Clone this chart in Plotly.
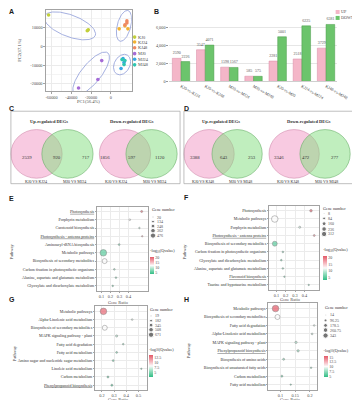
import numpy as np
import plotly.graph_objects as go

W, H = 360, 400
SERIF = "Liberation Serif"
SANS = "Liberation Sans"
GRID = "#ebebeb"
FRAME = "#a3a3a3"
TXT = "#4d4d4d"


def fx(p):
    return p / W


def fy(p):
    return 1 - p / H


# ===================== DATA =====================
# A: PCA
pca_groups = ["KJ0", "KJ24", "KJ48", "MJ0", "MJ24", "MJ48"]
pca_colors = ["#c2cf3a", "#f3b230", "#ef8a62", "#a56bd6", "#3aa6e3", "#2ec6b0"]
pc1_values = [[-62900, -22900, -23900], [8300, 17100, 14100], [16100, 16100, 14100],
              [-9300, -13200, -32700], [12200, 13200, 10200], [11200, 14100, 13200]]
pc2_values = [[16940, 8950, 8420], [9480, 9480, 11080], [13750, 12680, 11610],
              [-7570, -17690, -22300], [-6500, -8630, -11830], [-7030, -7570, -9700]]
pc1_ticks = [-60000, -40000, -20000, 0]
pc2_ticks = [-20000, -10000, 0, 10000]

# B: DEG numbers
deg_comparisons = ["KJ0-vs-KJ24", "KJ0-vs-KJ48", "MJ0-vs-MJ24", "MJ0-vs-MJ48",
                   "KJ0-vs-MJ0", "KJ24-vs-MJ24", "KJ48-vs-MJ48"]
deg_up = [2590, 3547, 1598, 585, 2281, 2518, 3729]
deg_down = [2226, 4071, 1567, 575, 5001, 6225, 6381]
deg_ticks = [0, 2000, 4000, 6000]
deg_ticktext = ["0", "2,000", "4,000", "6,000"]

# C / D: Venn counts (left only, shared, right only)
venn_c_up = [2539, 920, 717]
venn_c_down = [1856, 597, 1120]
venn_d_up = [3388, 643, 253]
venn_d_down = [3346, 472, 277]
venn_c_sets = ["KJ0 VS KJ24", "MJ0 VS MJ24"]
venn_d_sets = ["KJ0 VS KJ48", "MJ0 VS MJ48"]
venn_titles = ["Up-regulated DEGs", "Down-regulated DEGs"]

# E
e_pathways = ["Photosynthesis", "Porphyrin metabolism", "Carotenoid biosynthesis",
              "Photosynthesis - antenna proteins", "Aminoacyl-tRNA biosynthesis",
              "Metabolic pathways", "Biosynthesis of secondary metabolites",
              "Carbon fixation in photosynthetic organisms",
              "Alanine, aspartate and glutamate metabolism",
              "Glyoxylate and dicarboxylate metabolism"]
e_ratio = [0.546, 0.414, 0.521, 0.552, 0.296, 0.121, 0.135, 0.243, 0.261, 0.225]
e_count = [45, 30, 25, 20, 35, 476, 270, 30, 28, 25]
e_q = [20, 12, 9, 17, 6, 5, 12, 7, 6, 5.5]
e_size_breaks = [20, 134, 248, 362, 476]
e_q_ticks = [5, 10, 15, 20]
e_x_ticks = [0.1, 0.2, 0.3, 0.4]

# F
f_pathways = ["Photosynthesis", "Metabolic pathways", "Porphyrin metabolism",
              "Photosynthesis - antenna proteins", "Biosynthesis of secondary metabolites",
              "Carbon fixation in photosynthetic organisms",
              "Glyoxylate and dicarboxylate metabolism",
              "Alanine, aspartate and glutamate metabolism",
              "Flavonoid biosynthesis", "Taurine and hypotaurine metabolism"]
f_ratio = [0.471, 0.082, 0.35, 0.506, 0.082, 0.169, 0.152, 0.169, 0.186, 0.447]
f_count = [40, 312, 25, 20, 170, 15, 14, 13, 10, 8]
f_q = [20, 12, 10, 18, 5, 7, 6, 6, 5.5, 5]
f_size_breaks = [8, 84, 160, 236, 312]
f_q_ticks = [5, 10, 15, 20]
f_x_ticks = [0.1, 0.2, 0.3, 0.4]

# G
g_pathways = ["Metabolic pathways", "Alpha-Linolenic acid metabolism",
              "Biosynthesis of secondary metabolites", "MAPK signaling pathway - plant",
              "Fatty acid degradation", "Fatty acid metabolism",
              "Amino sugar and nucleotide sugar metabolism", "Linoleic acid metabolism",
              "Carbon metabolism", "Phenylpropanoid biosynthesis"]
g_ratio = [0.213, 0.448, 0.224, 0.321, 0.375, 0.321, 0.293, 0.523, 0.25, 0.282]
g_count = [671, 30, 380, 60, 30, 40, 45, 19, 50, 55]
g_q = [13, 7, 8, 6, 5, 4.5, 4, 4, 3.5, 3]
g_size_breaks = [19, 182, 345, 508, 671]
g_q_ticks = [5, 7.5, 10, 12.5]
g_x_ticks = [0.2, 0.3, 0.4, 0.5]

# H
h_pathways = ["Metabolic pathways", "Biosynthesis of secondary metabolites",
              "Fatty acid degradation", "Alpha-Linolenic acid metabolism",
              "MAPK signaling pathway - plant", "Phenylpropanoid biosynthesis",
              "Biosynthesis of amino acids", "Biosynthesis of unsaturated fatty acids",
              "Carbon metabolism", "Fatty acid metabolism"]
h_ratio = [0.0835, 0.090, 0.2145, 0.2076, 0.153, 0.160, 0.111, 0.204, 0.105, 0.135]
h_count = [343, 200, 20, 22, 40, 42, 30, 18, 30, 14]
h_q = [15.5, 10, 9, 8.5, 8, 7.5, 7, 6.5, 6, 5.5]
h_size_breaks = [14, 96.25, 178.5, 260.75, 343]
h_q_ticks = [5, 7.5, 10, 12.5, 15]
h_x_ticks = [0.1, 0.15, 0.2]

# ===================== FIGURE =====================
fig = go.Figure()
annotations = []
shapes = []
layout_axes = {}


def ann(x, y, text, size=4.5, color=TXT, family=SERIF, xanchor="center",
        yanchor="middle", angle=0, weight="normal"):
    annotations.append(dict(x=fx(x), y=fy(y), xref="paper", yref="paper", text=text,
                            showarrow=False, xanchor=xanchor, yanchor=yanchor,
                            textangle=angle, borderpad=0,
                            font=dict(size=size, color=color, family=family,
                                      weight=weight)))


# ---------- panel A ----------
A_LEFT, A_RIGHT, A_TOP, A_BOT = 39, 128, 2, 84
A_XR = [-65850, 20975]
A_YR = [-24080, 19600]


def a_x(px):
    return A_XR[0] + (np.asarray(px) - A_LEFT) / (A_RIGHT - A_LEFT) * (A_XR[1] - A_XR[0])


def a_y(py):
    return A_YR[0] + (A_BOT - np.asarray(py)) / (A_BOT - A_TOP) * (A_YR[1] - A_YR[0])


cluster_outlines = [(64, 18, 28, 11, 20), (120, 18, 16, 7, -75),
                    (86, 66, 27, 10, -50), (118, 57, 11, 8, -60)]
tt = np.linspace(0, 2 * np.pi, 140)
for cx, cy, a, b, ang in cluster_outlines:
    th = np.radians(ang)
    ex = cx + a * np.cos(tt) * np.cos(th) - b * np.sin(tt) * np.sin(th)
    ey = cy + a * np.cos(tt) * np.sin(th) + b * np.sin(tt) * np.cos(th)
    fig.add_trace(go.Scatter(x=a_x(ex), y=a_y(ey), mode="lines",
                             line=dict(color="#8e9cd8", width=0.8),
                             xaxis="x", yaxis="y", hoverinfo="skip"))
for g, col, xs, ys in zip(pca_groups, pca_colors, pc1_values, pc2_values):
    fig.add_trace(go.Scatter(x=xs, y=ys, mode="markers", name=g,
                             marker=dict(size=3.6, color=col),
                             xaxis="x", yaxis="y"))

tickfont = dict(size=4.3, color=TXT, family=SERIF)
layout_axes["xaxis"] = dict(domain=[fx(A_LEFT), fx(A_RIGHT)], range=A_XR, anchor="y",
                            tickvals=pc1_ticks, ticktext=[str(v) for v in pc1_ticks],
                            showgrid=True, gridcolor=GRID, gridwidth=0.6,
                            minor=dict(tickvals=[-50000, -30000, -10000, 10000],
                                       showgrid=True, gridcolor="#f4f4f4", gridwidth=0.4),
                            zeroline=False, showline=True, mirror=True, linecolor=FRAME,
                            linewidth=0.6, ticks="outside", ticklen=1.5, tickcolor=FRAME,
                            tickwidth=0.5, tickfont=tickfont)
layout_axes["yaxis"] = dict(domain=[fy(A_BOT), fy(A_TOP)], range=A_YR, anchor="x",
                            tickvals=pc2_ticks, ticktext=[str(v) for v in pc2_ticks],
                            showgrid=True, gridcolor=GRID, gridwidth=0.6,
                            minor=dict(tickvals=[-15000, -5000, 5000, 15000],
                                       showgrid=True, gridcolor="#f4f4f4", gridwidth=0.4),
                            zeroline=False, showline=True, mirror=True, linecolor=FRAME,
                            linewidth=0.6, ticks="outside", ticklen=1.5, tickcolor=FRAME,
                            tickwidth=0.5, tickfont=tickfont)
ann(83.5, 94.2, "PC1(56.4%)", size=4.6)
ann(12.5, 43, "PC2(17.1%)", size=4.6, angle=-90)

# ---------- panel B ----------
xb = list(range(len(deg_comparisons)))
bar_font = dict(size=4.0, color="#555555", family=SERIF)
fig.add_trace(go.Bar(x=xb, y=deg_up, name="UP", text=[str(v) for v in deg_up],
                     textposition="outside", textfont=bar_font, cliponaxis=False,
                     constraintext="none",
                     marker=dict(color="#f4b6c8", line=dict(color="#d98aa4", width=0.5)),
                     xaxis="x2", yaxis="y2"))
fig.add_trace(go.Bar(x=xb, y=deg_down, name="DOWN", text=[str(v) for v in deg_down],
                     textposition="outside", textfont=bar_font, cliponaxis=False,
                     constraintext="none",
                     marker=dict(color="#6cc46c", line=dict(color="#4a9a4a", width=0.5)),
                     xaxis="x2", yaxis="y2"))
layout_axes["xaxis2"] = dict(domain=[fx(167), fx(340)], range=[-0.48, 6.44], anchor="y2",
                             tickvals=xb, ticktext=deg_comparisons, tickangle=30,
                             showgrid=False, zeroline=False, showline=True,
                             linecolor="#cfcfcf", linewidth=0.6, ticks="",
                             tickfont=dict(size=4.2, color=TXT, family=SERIF))
layout_axes["yaxis2"] = dict(domain=[fy(74), fy(2)], range=[0, 8000], anchor="x2",
                             tickvals=deg_ticks, ticktext=deg_ticktext,
                             showgrid=True, gridcolor="#e6e6e6", gridwidth=0.6,
                             zeroline=False, showline=False, ticks="outside", ticklen=2,
                             tickcolor="#999999", tickwidth=0.5, tickfont=tickfont)

# ---------- panels C, D : Venn ----------
venns = [
    dict(counts=venn_c_up, title=venn_titles[0], sets=venn_c_sets, pink=29.5, green=61.5,
         rx=26.5, nums=[20, 50.5, 81], labs=[29, 68.5], tx=42),
    dict(counts=venn_c_down, title=venn_titles[1], sets=venn_c_sets, pink=121, green=148.5,
         rx=26.5, nums=[100, 128, 157], labs=[111.5, 152], tx=128),
    dict(counts=venn_d_up, title=venn_titles[0], sets=venn_d_sets, pink=208, green=237,
         rx=26, nums=[193, 223, 252.5], labs=[202, 240], tx=220),
    dict(counts=venn_d_down, title=venn_titles[1], sets=venn_d_sets, pink=296, green=328,
         rx=26, nums=[280.5, 308, 338.5], labs=[290, 329], tx=311.5),
]
VCY, VRY = 147, 24.5
for v in venns:
    for cx, fill, lc in [(v["pink"], "rgba(242,150,195,0.5)", "rgba(205,130,165,0.9)"),
                         (v["green"], "rgba(130,222,125,0.5)", "rgba(95,170,95,0.9)")]:
        shapes.append(dict(type="circle", xref="paper", yref="paper", layer="below",
                           x0=fx(cx - v["rx"]), x1=fx(cx + v["rx"]),
                           y0=fy(VCY + VRY), y1=fy(VCY - VRY),
                           fillcolor=fill, line=dict(color=lc, width=0.6)))
    for xx, n in zip(v["nums"], v["counts"]):
        ann(xx, 150.5, str(n), size=4.8, color="#333333")
    ann(v["tx"], 114, v["title"], size=4.5, color="#333333", weight="bold")
    for xx, s in zip(v["labs"], v["sets"]):
        ann(xx, 175, s, size=4.0, color="#333333")
for x0, x1 in [(3, 178), (182, 358.5)]:
    shapes.append(dict(type="rect", xref="paper", yref="paper", layer="below",
                       x0=fx(x0), x1=fx(x1), y0=fy(177), y1=fy(104),
                       line=dict(color=FRAME, width=0.7)))

# ---------- panels E-H : bubble charts ----------
CSCALE = [[0, "#31bd85"], [0.3, "#a2e2c6"], [0.5, "#fbfbfb"], [0.7, "#f5b7be"],
          [1, "#e45a68"]]


def dot_size(n, lo, hi):
    t = (np.asarray(n, dtype=float) - lo) / (hi - lo)
    return np.sqrt(1.4 ** 2 + (6.6 ** 2 - 1.4 ** 2) * np.clip(t, 0, 1))


panels = [
    dict(k=3, path=e_pathways, ratio=e_ratio, count=e_count, q=e_q, under=[0, 3],
         breaks=e_size_breaks, xticks=e_x_ticks, qticks=e_q_ticks, crange=[3, 21],
         box=(92, 145, 200, 285), xr=[0.05, 0.618], yr=[9.6, -0.6],
         leg=(147.5, 202.7, [210.7, 215.2, 219.7, 224.4, 229.3], 150, 153),
         cbar=(147, 240, 28), pw=(3.5, 245), gr=(114, 296.5)),
    dict(k=4, path=f_pathways, ratio=f_ratio, count=f_count, q=f_q, under=[3, 8],
         breaks=f_size_breaks, xticks=f_x_ticks, qticks=f_q_ticks, crange=[3, 21],
         box=(270, 322, 199.3, 284), xr=[0.02, 0.56], yr=[9.6, -0.6],
         leg=(325, 201.7, [207, 212, 217.3, 222.7, 227.7], 327, 330.5),
         cbar=(326, 239, 35), pw=(182.5, 245), gr=(292, 293.2)),
    dict(k=5, path=g_pathways, ratio=g_ratio, count=g_count, q=g_q, under=[9],
         breaks=g_size_breaks, xticks=g_x_ticks, qticks=g_q_ticks, crange=[2.5, 13.5],
         box=(90, 144, 300.7, 385), xr=[0.144, 0.571], yr=[9.6, -0.6],
         leg=(146, 303.3, [310, 315, 319.5, 324.2, 329.2], 148, 151.5),
         cbar=(146, 339, 33), pw=(7, 348), gr=(114, 394.3)),
    dict(k=6, path=h_pathways, ratio=h_ratio, count=h_count, q=h_q, under=[5],
         breaks=h_size_breaks, xticks=h_x_ticks, qticks=h_q_ticks, crange=[4.5, 15.5],
         box=(269.3, 319.3, 297.3, 385), xr=[0.059, 0.223], yr=[9.65, -0.65],
         leg=(326.5, 301.7, [309.3, 314.8, 319.8, 324.5, 330], 328.5, 332),
         cbar=(326.5, 340, 32), pw=(187, 345), gr=(292, 394.3)),
]

legend_markers_x, legend_markers_y, legend_markers_s = [], [], []
for i, p in enumerate(panels):
    k = p["k"]
    cax = "coloraxis" if i == 0 else "coloraxis%d" % (i + 1)
    lo, hi = p["breaks"][0], p["breaks"][-1]
    ys = list(range(len(p["path"])))
    fig.add_trace(go.Scatter(x=p["ratio"], y=ys, mode="markers",
                             marker=dict(size=dot_size(p["count"], lo, hi), color=p["q"],
                                         coloraxis=cax,
                                         line=dict(color="#555555", width=0.5)),
                             xaxis="x%d" % k, yaxis="y%d" % k))
    l, r, t, b = p["box"]
    ticktext = [("<u>%s</u>" % s) if j in p["under"] else s for j, s in enumerate(p["path"])]
    layout_axes["xaxis%d" % k] = dict(domain=[fx(l), fx(r)], range=p["xr"], anchor="y%d" % k,
                                      tickvals=p["xticks"], showgrid=True, gridcolor=GRID,
                                      gridwidth=0.6, zeroline=False, showline=True,
                                      mirror=True, linecolor=FRAME, linewidth=0.6,
                                      ticks="outside", ticklen=1.2, tickcolor=FRAME,
                                      tickwidth=0.5, tickfont=tickfont)
    layout_axes["yaxis%d" % k] = dict(domain=[fy(b), fy(t)], range=p["yr"], anchor="x%d" % k,
                                      tickvals=ys, ticktext=ticktext, showgrid=True,
                                      gridcolor=GRID, gridwidth=0.6, zeroline=False,
                                      showline=True, mirror=True, linecolor=FRAME,
                                      linewidth=0.6, ticks="outside", ticklen=1.2,
                                      tickcolor=FRAME, tickwidth=0.5,
                                      tickfont=dict(size=4.0, color="#333333", family=SERIF))
    cx, cy, clen = p["cbar"]
    layout_axes[cax] = dict(cmin=p["crange"][0], cmax=p["crange"][1], colorscale=CSCALE,
                            colorbar=dict(x=fx(cx), xanchor="left", y=fy(cy), yanchor="top",
                                          len=clen, lenmode="pixels", thickness=4,
                                          outlinewidth=0, xpad=0, ypad=0,
                                          tickvals=p["qticks"], ticks="",
                                          tickfont=dict(size=4.0, color=TXT, family=SERIF),
                                          title=dict(text="-log<sub>10</sub>(Qvalue)",
                                                     side="top",
                                                     font=dict(size=4.2, color="#333333",
                                                               family=SERIF))))
    # size legend
    lx, ly, lys, mx, txx = p["leg"]
    ann(lx, ly, "Gene number", size=4.2, color="#333333", xanchor="left")
    for yy, br in zip(lys, p["breaks"]):
        ann(txx, yy, ("%g" % br), size=4.0, xanchor="left")
    legend_markers_x += [mx] * len(lys)
    legend_markers_y += lys
    legend_markers_s += list(dot_size(p["breaks"], lo, hi) * 0.8)
    ann(p["pw"][0], p["pw"][1], "Pathway", size=4.4, angle=-90)
    ann(p["gr"][0], p["gr"][1], "Gene Ratio", size=4.4)

# ---------- overlay axis for legend keys ----------
fig.add_trace(go.Scatter(x=legend_markers_x, y=legend_markers_y, mode="markers",
                         marker=dict(size=legend_markers_s, color="#3a3a3a"),
                         xaxis="x7", yaxis="y7", hoverinfo="skip"))
legA_y = [29.3, 34.3, 40, 46, 51.7, 57.3]
fig.add_trace(go.Scatter(x=[131] * len(pca_groups), y=legA_y, mode="markers",
                         marker=dict(size=3.6, color=pca_colors),
                         xaxis="x7", yaxis="y7", hoverinfo="skip"))
for yy, g in zip(legA_y, pca_groups):
    ann(133.5, yy, g, size=4.4, xanchor="left")
fig.add_trace(go.Scatter(x=[341, 341], y=[4, 10], mode="markers",
                         marker=dict(size=4, symbol="square", color=["#f4b6c8", "#6cc46c"]),
                         xaxis="x7", yaxis="y7", hoverinfo="skip"))
ann(343.5, 4, "UP", size=4.2, xanchor="left")
ann(343.5, 10, "DOWN", size=4.2, xanchor="left")
layout_axes["xaxis7"] = dict(domain=[0, 1], range=[0, W], visible=False, anchor="y7")
layout_axes["yaxis7"] = dict(domain=[0, 1], range=[H, 0], visible=False, anchor="x7")

# ---------- panel letters ----------
for lt, x, y in [("A", 0.5, 3.5), ("B", 150.5, 3.5), ("C", 0.5, 101.5), ("D", 181.5, 101.5),
                 ("E", 0.5, 192), ("F", 181, 191), ("G", 0.5, 293.5), ("H", 181.5, 294)]:
    ann(x, y, lt, size=7, color="#1a1a1a", family=SANS, xanchor="left", weight="bold")

fig.update_layout(width=W, height=H, margin=dict(l=0, r=0, t=0, b=0),
                  paper_bgcolor="white", plot_bgcolor="rgba(0,0,0,0)",
                  showlegend=False, barmode="group", bargap=0.28, bargroupgap=0,
                  font=dict(family=SERIF, size=4.5, color=TXT),
                  annotations=annotations, shapes=shapes, **layout_axes)
fig.write_html("out.html")
